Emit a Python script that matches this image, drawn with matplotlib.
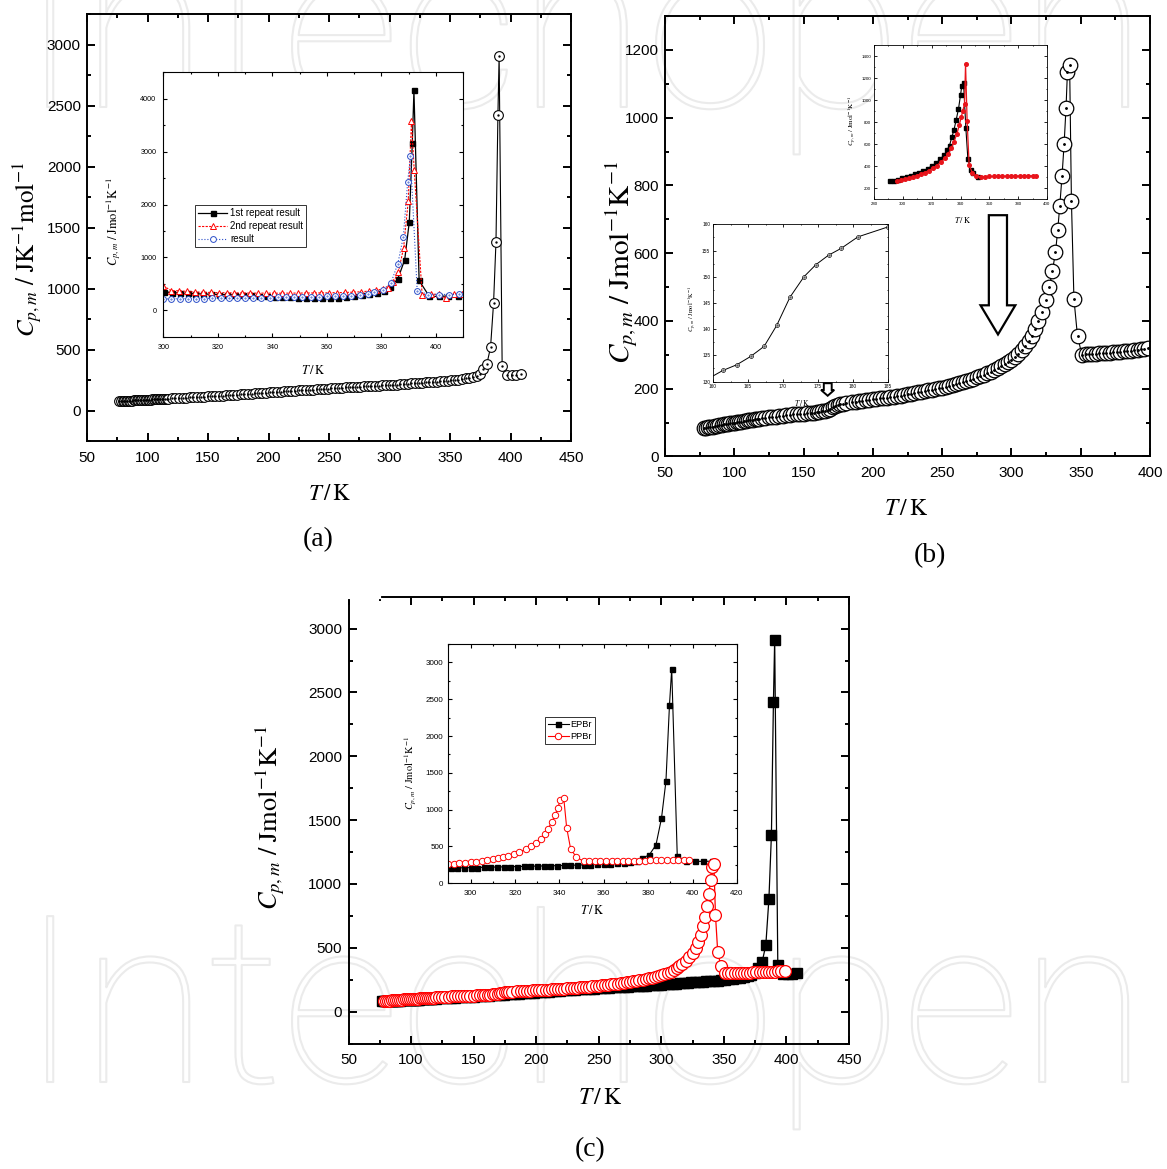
import matplotlib
matplotlib.use('Agg')
import matplotlib.pyplot as plt
import matplotlib.patheffects as pe
from matplotlib.patches import Polygon
from matplotlib.ticker import MultipleLocator

plt.rcParams['font.family'] = ['Liberation Sans', 'DejaVu Sans']
plt.rcParams['mathtext.fontset'] = 'stix'

# EPBr, full run (panel a main, inset "result", panel c EPBr)
a_T = [76.8, 78.1, 79.4, 80.7, 82.0, 83.3, 84.6, 85.9, 87.2, 88.5, 89.8, 91.1, 92.4, 93.7, 95.0, 96.3,
       97.6, 98.9, 100.2, 101.5, 102.8, 104.1, 105.4, 106.7, 108.0, 109.3, 110.6, 111.9, 113.2, 114.5,
       115.8, 117.1,
       120, 123, 126, 129, 132, 135, 138, 141, 144, 147, 150, 153, 156, 159, 162, 165, 168, 171, 174,
       177, 180, 183, 186, 189, 192, 195, 198, 201, 204, 207, 210, 213, 216, 219, 222, 225, 228, 231,
       234, 237, 240, 243, 246, 249, 252, 255, 258, 261, 264, 267, 270, 273, 276, 279, 282, 285, 288,
       291, 294, 297, 300, 303, 306, 309, 312, 315, 318, 321, 324, 327, 330, 333, 336, 339, 342, 345,
       348, 351, 354, 357, 360, 363, 366, 369, 372,
       375.0, 377.4, 380.5, 383.5, 386.0, 388.0, 389.6, 390.6, 393.1, 397.2, 401.0, 404.8, 408.6]
a_cp = [80, 81, 81, 82, 83, 83, 84, 85, 85, 86, 87, 87, 88, 89, 89, 90,
        91, 91, 92, 93, 93, 94, 95, 95, 96, 97, 97, 98, 99, 99,
        100, 101,
        102, 104, 105, 107, 108, 110, 112, 113, 115, 116, 118, 120, 122, 124, 126, 128, 130, 132, 134,
        136, 138, 140, 142, 144, 146, 148, 150, 152, 154, 156, 158, 160, 162, 164, 166, 168, 170, 172,
        174, 175, 177, 179, 181, 183, 185, 187, 189, 190, 192, 194, 196, 197, 199, 201, 202, 204, 205,
        207, 209, 210, 212, 214, 216, 218, 220, 222, 225, 227, 229, 231, 233, 235, 237, 239, 242, 244,
        247, 250, 253, 257, 261, 266, 272, 279, 290,
        305, 342, 386, 520, 883, 1386, 2424, 2912, 368, 298, 298, 298, 300]

# EPBr repeats (inset of panel a)
rep1_T = [300.2, 303.1, 306.0, 308.9, 311.8, 314.7, 317.6, 320.5, 323.4, 326.3, 329.2, 332.1, 335.0,
          337.9, 340.8, 343.7, 346.6, 349.5, 352.4, 355.3, 358.2, 361.1, 364.0, 366.9, 369.8, 372.7,
          375.6, 378.5, 381.0, 383.2, 386.0, 388.5, 390.2, 391.3, 391.9, 393.8, 397.5, 401.0, 404.5, 408.0]
rep1_cp = [350, 335, 325, 318, 312, 307, 302, 298, 294, 290, 286, 280, 275, 268, 260, 252, 245, 238,
           234, 230, 228, 226, 240, 255, 270, 285, 300, 330, 370, 432, 595, 951, 1671, 3161, 4157, 563,
           265, 262, 270, 278]
rep2_T = [300.0, 302.9, 305.8, 308.7, 311.6, 314.5, 317.4, 320.3, 323.2, 326.1, 329.0, 331.9, 334.8,
          337.7, 340.6, 343.5, 346.4, 349.3, 352.2, 355.1, 358.0, 360.9, 363.8, 366.7, 369.6, 372.5,
          375.4, 378.0, 380.6, 382.5, 384.3, 386.2, 388.1, 389.8, 391.0, 392.0, 394.9, 398.0, 401.0,
          403.5, 406.5, 409.5]
rep2_cp = [463, 370, 369, 357, 345, 340, 336, 333, 330, 328, 326, 325, 324, 324, 323, 323, 324, 325,
           326, 327, 328, 330, 333, 337, 342, 350, 362, 380, 400, 430, 530, 720, 1180, 2060, 3580, 2654,
           294, 300, 305, 225, 300, 302]

# PPBr, full run (panel b main and its lower inset, panel c PPBr)
b_T = [78.0, 79.6, 81.2, 82.8, 84.4, 86.0, 87.6, 89.2, 90.8, 92.4, 94.0, 95.6, 97.2, 98.8, 100.4,
       102.0, 103.6, 105.2, 106.8, 108.4, 110.0, 111.6, 113.2, 114.8, 116.4, 118.0,
       120.0, 122.5, 125.0, 127.5, 130.0, 132.5, 135.0, 137.5, 140.0, 142.5, 145.0, 147.5, 150.0,
       152.5, 155.0, 157.5,
       159.4, 161.4, 163.4, 165.4, 167.3, 169.1, 171.0, 173.0, 174.7, 176.5, 178.3, 180.7, 185.0,
       187.5, 190.0, 192.5, 195.0, 197.5, 200.0, 202.5, 205.0, 207.5, 210.0, 212.5, 215.0, 217.5,
       220.0, 222.5, 225.0, 227.5, 230.0, 232.5, 235.0, 237.5, 240.0, 242.5, 245.0, 247.5, 250.0,
       252.5, 255.0, 257.5, 260.0, 262.5, 265.0, 267.5, 270.0, 272.5, 275.0, 277.5, 280.0, 282.5,
       285.0, 287.5, 290.0, 292.5, 295.0, 297.5, 300.0, 302.5, 305.0, 307.5, 310.0,
       312.5, 314.5, 316.9, 319.5, 322.0, 325.0, 327.4, 329.5, 331.8, 333.4, 334.9, 336.5, 338.0,
       339.4, 340.4, 342.0, 343.3, 345.1, 347.7, 350.9, 353.5, 356.0, 358.5, 361.0, 363.5, 366.0,
       368.5, 371.0, 373.5, 376.0, 378.5, 381.0, 383.5, 386.0, 388.5, 391.0, 393.5, 396.0, 398.5]
b_cp = [83, 84, 85.5, 87, 88, 89.5, 91, 92, 93, 94.5, 95.5, 96.5, 98, 99, 100,
        101, 102, 103, 104, 105, 106, 107, 108, 109, 110, 111,
        112, 113.5, 115, 116, 117.5, 119, 120, 121.5, 122.5, 124, 125, 126, 126.5,
        127.5, 128.5, 129.5,
        130.6, 132.1, 133.2, 134.8, 136.7, 140.7, 146.1, 150.0, 152.3, 154.1, 155.4, 157.6, 159.5,
        161, 162.5, 164, 165.5, 167, 168, 169.5, 171, 172, 173.5, 175, 176.5, 178,
        179.5, 181, 183, 185, 187, 189, 191, 193, 195, 197, 199, 201, 203,
        205.5, 208, 210.5, 213, 216, 219, 222, 225, 229, 233, 237, 241, 245.5,
        250, 255, 260, 266, 272, 279, 286, 294, 303, 313, 326,
        340, 356, 375, 399, 427, 462, 501, 546, 602, 668, 740, 827, 921,
        1029, 1134, 1155, 754, 465, 354, 300, 301, 302, 302, 303, 304, 305,
        305, 306, 307, 308, 309, 310, 311, 312, 313, 314, 316, 318, 320]

# PPBr repeats (upper inset of panel b)
pb1_T = [291.1, 293.9, 296.9, 299.7, 302.7, 305.5, 308.5, 311.3, 314.3, 317.3, 320.1, 323.1, 325.9,
         328.6, 330.7, 332.4, 334.0, 335.4, 337.0, 338.6, 340.0, 340.9, 342.1, 343.7, 345.1, 347.2,
         349.0, 351.8]
pb1_cp = [266, 269, 278, 290, 301, 313, 328, 343, 361, 379, 403, 427, 463, 501, 546, 588, 666, 725,
          821, 919, 1045, 1128, 1158, 749, 469, 367, 337, 298]
pb2_T = [295.8, 298.5, 301.3, 304.1, 306.9, 309.7, 312.4, 315.2, 318.0, 320.8, 323.5, 326.3, 329.1,
         331.4, 333.5, 335.4, 337.4, 339.1, 340.5, 341.6, 342.8, 343.5, 344.6, 346.0, 348.1, 350.9,
         354.0, 357.0, 360.0, 363.0, 366.0, 369.0, 372.0, 375.0, 378.0, 381.0, 384.0, 387.0, 390.0,
         392.5]
pb2_cp = [266, 272, 281, 290, 301, 313, 328, 343, 361, 382, 406, 436, 472, 510, 561, 621, 690, 770,
          845, 904, 964, 1328, 806, 412, 343, 307, 305, 306, 307, 307, 308, 309, 310, 310, 311, 312,
          313, 313, 314, 315]

W, H = 1167, 1169
fig = plt.figure(figsize=(W / 100, H / 100), dpi=100)


def px_axes(l, t, r, b, **kw):
    return fig.add_axes([l / W, 1 - b / H, (r - l) / W, (b - t) / H], **kw)


def style(ax, xmaj, ymaj, lab, major, minor, lw, xpad, ypad):
    ax.xaxis.set_major_locator(MultipleLocator(xmaj))
    ax.xaxis.set_minor_locator(MultipleLocator(xmaj / 2))
    ax.yaxis.set_major_locator(MultipleLocator(ymaj))
    ax.yaxis.set_minor_locator(MultipleLocator(ymaj / 2))
    ax.tick_params(which='both', direction='in', top=True, right=True, width=lw, labelsize=lab)
    ax.tick_params(which='major', length=major)
    ax.tick_params(which='minor', length=minor)
    ax.tick_params(axis='x', pad=xpad)
    ax.tick_params(axis='y', pad=ypad)
    for s in ax.spines.values():
        s.set_linewidth(lw)


def dotted_circles(ax, x, y, ms, color, mew, lw, ls='-', **kw):
    line, = ax.plot(x, y, marker='o', ls=ls, color=color, lw=lw, ms=ms, mfc='white',
                    mec=color, mew=mew, **kw)
    ax.plot(x, y, '.', color=color, ms=max(ms * 0.2, 0.8))
    return line


cp_lab = r'$C_{p,m}\ /\ \mathrm{JK^{-1}mol^{-1}}$'
cp_lab2 = r'$C_{p,m}\ /\ \mathrm{Jmol^{-1}K^{-1}}$'
t_lab = r'$T\,/\,\mathrm{K}$'

# watermark outlines, kept behind everything
for yb in [107, 1082]:
    fig.text(0.5, 1 - yb / H, 'Intechopen', ha='center', va='baseline', fontsize=168,
             family='Roboto', fontweight='light', color=(1, 1, 1, 0), zorder=-5,
             path_effects=[pe.Stroke(linewidth=1.5, foreground='#ebebeb')])

# ---------------- panel (a)
ax_a = px_axes(87, 14.3, 571, 441.4)
ax_a.set_facecolor('none')
ax_a.set_xlim(50, 450)
ax_a.set_ylim(-250, 3250)
dotted_circles(ax_a, a_T, a_cp, 7, 'k', 0.8, 0.8)
style(ax_a, 50, 500, 11, 6, 3, 1.4, 7, 4.5)
ax_a.set_ylabel(cp_lab, fontsize=18)
ax_a.yaxis.set_label_coords(-0.089, 0.45)
ax_a.set_xlabel(t_lab, fontsize=16.5)
ax_a.xaxis.set_label_coords(0.502, -0.095)

ia = px_axes(163.3, 72.3, 463.3, 336.7)
ia.set_xlim(300, 410)
ia.set_ylim(-500, 4500)
ia.plot(rep1_T, rep1_cp, '-s', color='k', lw=0.9, ms=3.6, label='1st repeat result')
ia.plot(rep2_T, rep2_cp, marker='^', ls=(0, (2, 1.2)), color='red', lw=0.8, ms=4.2,
        mfc='white', mec='red', mew=0.7, label='2nd repeat result')
dotted_circles(ia, a_T, a_cp, 4.2, '#2c4fc9', 0.7, 0.8, ls=':', label='result')
style(ia, 20, 1000, 5.2, 3, 1.6, 0.8, 5.5, 5)
ia.set_ylabel(cp_lab2, fontsize=9)
ia.yaxis.set_label_coords(-0.134, 0.434)
ia.set_xlabel(t_lab, fontsize=9)
ia.xaxis.set_label_coords(0.5, -0.103)
leg = ia.legend(loc='lower left', bbox_to_anchor=(0.106, 0.339), fontsize=7, frameon=True,
                fancybox=False, edgecolor='k', borderaxespad=0, handlelength=3,
                labelspacing=0.3, borderpad=0.3, handletextpad=0.3)
leg.get_frame().set_linewidth(0.7)

# ---------------- panel (b)
ax_b = px_axes(665, 16, 1150, 456.4)
ax_b.set_facecolor('none')
ax_b.set_xlim(50, 400)
ax_b.set_ylim(0, 1300)
dotted_circles(ax_b, b_T, b_cp, 10.5, 'k', 0.9, 0.8)
style(ax_b, 50, 200, 11, 6, 3, 1.4, 7, 4.5)
ax_b.set_ylabel(cp_lab2, fontsize=21)
ax_b.yaxis.set_label_coords(-0.052, 0.44)
ax_b.set_xlabel(t_lab, fontsize=17)
ax_b.xaxis.set_label_coords(0.497, -0.094)

big_arrow = [(283.7, 712), (296.8, 712), (296.8, 446), (302.8, 446), (290.3, 360),
             (277.7, 446), (283.7, 446)]
ax_b.add_patch(Polygon(big_arrow, closed=True, fc='white', ec='k', lw=1.6, zorder=5))
small_arrow = [(164.6, 216), (170.3, 216), (170.3, 196), (172.1, 196), (167.4, 179),
               (162.6, 196), (164.6, 196)]
ax_b.add_patch(Polygon(small_arrow, closed=True, fc='white', ec='k', lw=1.4, zorder=5))

ib1 = px_axes(874, 45, 1047, 199.3)
ib1.set_xlim(280, 400)
ib1.set_ylim(100, 1500)
ib1.plot(pb1_T, pb1_cp, '-s', color='k', lw=0.8, ms=2.5)
ib1.plot(pb2_T, pb2_cp, '-o', color='#e8141b', lw=0.9, ms=2.6)
style(ib1, 20, 200, 3.2, 2, 1, 0.6, 2, 2)
ib1.set_ylabel(cp_lab2, fontsize=5)
ib1.yaxis.set_label_coords(-0.087, 0.506)
ib1.set_xlabel(t_lab, fontsize=6)
ib1.xaxis.set_label_coords(0.51, -0.10)

ib2 = px_axes(713, 224.3, 888, 381.5)
ib2.set_xlim(160, 185)
ib2.set_ylim(130, 160)
dotted_circles(ib2, b_T, b_cp, 2.8, 'k', 0.5, 0.7)
style(ib2, 5, 5, 3.4, 2, 1, 0.6, 2, 2)
ib2.set_ylabel(cp_lab2, fontsize=4.6)
ib2.yaxis.set_label_coords(-0.08, 0.46)
ib2.set_xlabel(t_lab, fontsize=5.5)
ib2.xaxis.set_label_coords(0.506, -0.105)

# ---------------- panel (c)
ax_c = px_axes(348.5, 596.7, 849, 1043.6, zorder=3)
ax_c.set_facecolor('none')
ax_c.set_xlim(50, 450)
ax_c.set_ylim(-250, 3250)
ax_c.plot(a_T, a_cp, '-s', color='k', lw=0.9, ms=7.5)
ax_c.plot(b_T, b_cp, '-o', color='red', lw=0.9, ms=8.5, mfc='white', mec='red', mew=0.9)
style(ax_c, 50, 500, 11, 6, 3, 1.4, 7, 4.5)
ax_c.set_ylabel(cp_lab2, fontsize=19)
ax_c.yaxis.set_label_coords(-0.123, 0.505)
ax_c.set_xlabel(t_lab, fontsize=17)
ax_c.xaxis.set_label_coords(0.502, -0.097)
ax_c.plot([0.003, 0.06], [1, 1], transform=ax_c.transAxes, color='white', lw=3,
          clip_on=False, zorder=10)

ic = px_axes(448.3, 644, 737, 883.3, zorder=2)
ic.set_xlim(290, 420)
ic.set_ylim(0, 3250)
ic.plot(a_T, a_cp, '-s', color='k', lw=0.8, ms=3.6, label='EPBr')
ic.plot(b_T, b_cp, '-o', color='red', lw=0.8, ms=4.6, mfc='white', mec='red', mew=0.7,
        label='PPBr')
style(ic, 20, 500, 5.8, 3, 1.6, 0.8, 4.5, 3.5)
ic.set_ylabel(cp_lab2, fontsize=7.5)
ic.yaxis.set_label_coords(-0.105, 0.46)
ic.set_xlabel(t_lab, fontsize=9)
ic.xaxis.set_label_coords(0.5, -0.087)
leg = ic.legend(loc='lower left', bbox_to_anchor=(0.336, 0.581), fontsize=6.7, frameon=True,
                fancybox=False, edgecolor='k', borderaxespad=0, handlelength=2.2,
                labelspacing=0.35, borderpad=0.3, handletextpad=0.2)
leg.get_frame().set_linewidth(0.7)

# panel letters
for txt, x, y in [('(a)', 318, 540), ('(b)', 930, 556), ('(c)', 590, 1150)]:
    fig.text(x / W, 1 - y / H, txt, ha='center', va='center', fontsize=20,
             family='Liberation Serif')

fig.savefig('out.png', dpi=100, facecolor='white')
